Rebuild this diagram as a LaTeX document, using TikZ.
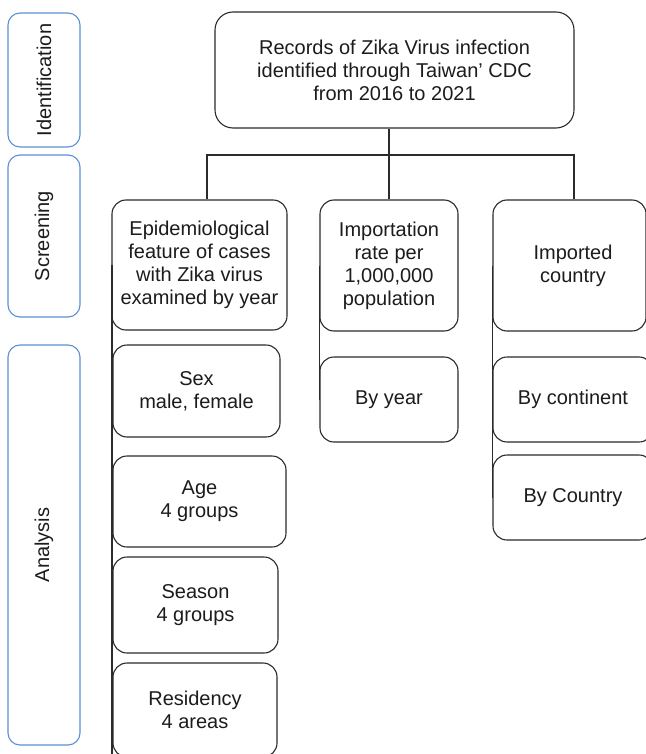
\documentclass[tikz,border=0pt]{standalone}
\usepackage{fontspec}
\setmainfont{Liberation Sans}
\definecolor{txt}{HTML}{1E1B1C}
\definecolor{ln}{HTML}{2B2B2B}
\definecolor{stage}{HTML}{5B8FD6}
\begin{document}
\begin{tikzpicture}[x=1pt,y=-1pt,
  box/.style={draw=ln, line width=1.1pt, rounded corners=14pt, inner sep=0pt, align=center, text=txt,
    font=\fontsize{20}{23}\selectfont},
  lbl/.style={text=txt, align=center, font=\fontsize{20}{23}\selectfont},
  stagebox/.style={draw=stage, line width=1.1pt, rounded corners=12pt, inner sep=0pt},
  conn/.style={draw=ln, line width=1.1pt}]
\useasboundingbox (0,0) rectangle (645,754);
\fill[white] (0,0) rectangle (645,754);

% stage labels
\node[stagebox, minimum width=72pt, minimum height=134pt] (ident) at (44,80) {};
\node[lbl, rotate=90] (identt) at (ident.center) {Identification};
\node[stagebox, minimum width=72pt, minimum height=162pt] (screen) at (44,236) {};
\node[lbl, rotate=90] (screent) at (screen.center) {Screening};
\node[stagebox, minimum width=72pt, minimum height=400pt] (anal) at (44,545) {};
\node[lbl, rotate=90] (analt) at (anal.center) {Analysis};

% top
\node[box, minimum width=359pt, minimum height=116pt, rounded corners=18pt] (top) at (394.5,70)
  {Records of Zika Virus infection\\identified through Taiwan’ CDC\\from 2016 to 2021};

% second level
\node[box, minimum width=175pt, minimum height=130pt] (epi) at (199.5,265)
  {Epidemiological\\feature of cases\\with Zika virus\\examined by year};
\node[box, minimum width=138pt, minimum height=131pt] (imp) at (389,265.5)
  {Importation\\rate per\\1,000,000\\population};
\node[box, minimum width=153pt, minimum height=131pt] (ctry) at (569.5,265.5) {};
\node[lbl] (ctryt) at (573,265.5) {Imported\\country};

% left column
\node[box, minimum width=167pt, minimum height=92pt] (sex) at (196.5,391) {Sex\\male, female};
\node[box, minimum width=173pt, minimum height=91pt] (age) at (199.5,501.5) {Age\\4 groups};
\node[box, minimum width=165pt, minimum height=96pt] (season) at (195.5,605) {Season\\4 groups};
\node[box, minimum width=164pt, minimum height=94pt] (resid) at (195,710) {Residency\\4 areas};

% middle column
\node[box, minimum width=138pt, minimum height=85pt] (byyear) at (389,399.5) {By year};

% right column
\node[box, minimum width=160pt, minimum height=85pt] (bycont) at (573,399.5) {};
\node[lbl] (bycontt) at (573,399.5) {By continent};
\node[box, minimum width=160pt, minimum height=85pt] (bycountry) at (573,497.5) {};
\node[lbl] (bycountryt) at (573,497.5) {By Country};

% connectors
\coordinate (jL) at (207,155);
\coordinate (jR) at (574,155);
\draw[conn] (top.south -| imp.north) -- (imp.north);
\draw[conn] (jL |- epi.north) -- (jL) -- (jR) -- (jR |- ctry.north);
\draw[conn] ([xshift=0.5pt]epi.west) -- ([xshift=0.5pt]epi.west |- resid.south);
\draw[conn] (imp.west) -- (byyear.west);
\draw[conn] (ctry.west) -- (bycountry.west);
\end{tikzpicture}
\end{document}
